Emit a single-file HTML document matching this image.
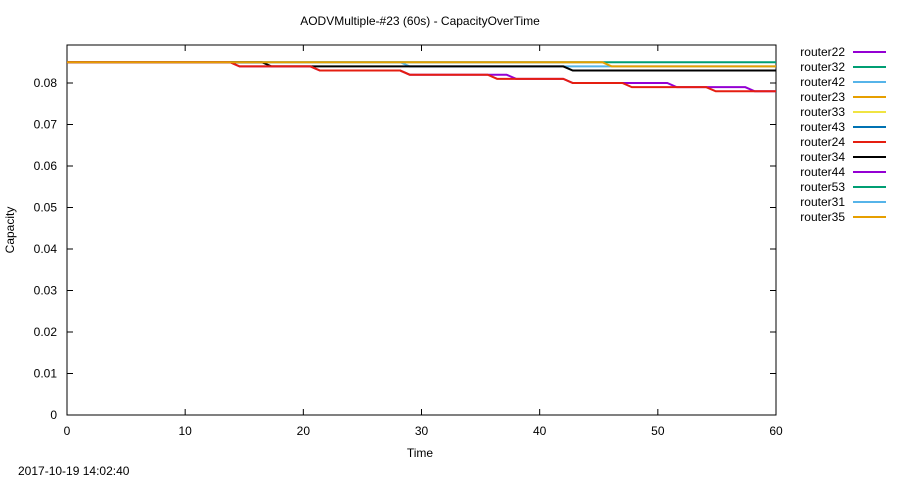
<!DOCTYPE html>
<html><head><meta charset="utf-8"><style>
body{margin:0;background:#fff;}
svg{display:block;font-family:"Liberation Sans",sans-serif;font-size:12px;}
</style></head><body>
<svg id="chart" width="900" height="480">
<text x="420" y="25" text-anchor="middle">AODVMultiple-#23 (60s) - CapacityOverTime</text>
<rect x="67" y="45" width="709" height="370" fill="none" stroke="#000"/>
<g id="axes"></g>
<g id="series"></g>
<g id="legend"></g>
<text x="420" y="457" text-anchor="middle">Time</text>
<text x="14" y="230" text-anchor="middle" transform="rotate(-90 14 230)">Capacity</text>
<text x="18" y="475">2017-10-19 14:02:40</text>
</svg>
<script>
const xTicks=[0,10,20,30,40,50,60];
const yTicks=[0,0.01,0.02,0.03,0.04,0.05,0.06,0.07,0.08];
const yTickLabels=["0","0.01","0.02","0.03","0.04","0.05","0.06","0.07","0.08"];
const seriesNames=["router22","router32","router42","router23","router33","router43","router24","router34","router44","router53","router31","router35"];
const seriesColors=["#9400d3","#009e73","#56b4e9","#e69f00","#f0e442","#0072b2","#e51e10","#000000","#9400d3","#009e73","#56b4e9","#e69f00"];
// step change times and resulting values (start value first)
const stepTimes={
 router53:[],
 router31:[28.2],
 router34:[16.5,42],
 router44:[13.8,20.6,28.2,37.2,42,50.8,57.4],
 router24:[13.8,20.6,28.2,35.6,42,47,54.1],
 router35:[45.3]
};
const stepValues={
 router53:[0.085],
 router31:[0.085,0.084],
 router34:[0.085,0.084,0.083],
 router44:[0.085,0.084,0.083,0.082,0.081,0.080,0.079,0.078],
 router24:[0.085,0.084,0.083,0.082,0.081,0.080,0.079,0.078],
 router35:[0.085,0.084]
};
const drawOrder=["router53","router31","router34","router44","router24","router35"];
const NS="http://www.w3.org/2000/svg";
const X=t=>67+t*(709/60);
const Y=v=>415-v*4150;
function mk(tag,attrs,parent){const e=document.createElementNS(NS,tag);for(const k in attrs)e.setAttribute(k,attrs[k]);parent.appendChild(e);return e;}
const axes=document.getElementById('axes');
xTicks.forEach(t=>{
 const tk=mk('path',{d:`M${X(t)} 415v-6M${X(t)} 45v6`,stroke:'#000'},axes);
 
 
 const lb=mk('text',{x:X(t),y:435,'text-anchor':'middle'},axes);lb.textContent=t;
 
 
});
yTicks.forEach((v,i)=>{
 const tk=mk('path',{d:`M67 ${Y(v)}h6M776 ${Y(v)}h-6`,stroke:'#000'},axes);
 
 
 const lb=mk('text',{x:57,y:Y(v)+4,'text-anchor':'end'},axes);lb.textContent=yTickLabels[i];
 
 
});
const sg=document.getElementById('series');
drawOrder.forEach(n=>{
 const ts=stepTimes[n],vs=stepValues[n];
 let d=`M${X(0)} ${Y(vs[0])}`;
 ts.forEach((t,i)=>{d+=`L${X(t)} ${Y(vs[i])}L${X(t+0.8)} ${Y(vs[i+1])}`;});
 d+=`L${X(60)} ${Y(vs[vs.length-1])}`;
 const p=mk('path',{d:d,fill:'none',stroke:seriesColors[seriesNames.indexOf(n)],'stroke-width':2},sg);
 
 
});
const lg=document.getElementById('legend');
seriesNames.forEach((n,i)=>{
 const y=52+i*15;
 const t=mk('text',{x:845,y:y+4,'text-anchor':'end'},lg);t.textContent=n;
 
 
 const l=mk('line',{x1:853,x2:886,y1:y,y2:y,stroke:seriesColors[i],'stroke-width':2},lg);
 
 
});
</script>
</body></html>
